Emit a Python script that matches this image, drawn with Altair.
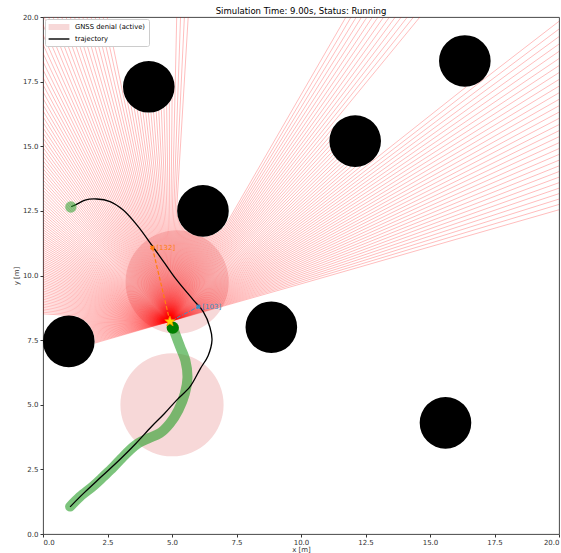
import altair as alt
import numpy as np
import pandas as pd

# ---- scene ----
obs_x = [4.1, 16.35, 12.1, 6.2, 1.0, 8.85, 15.6]
obs_y = [17.3, 18.3, 15.2, 12.5, 7.45, 8.0, 4.3]
obs_r = 1.0

gnss_x = [5.0, 5.2]
gnss_y = [5.0, 9.75]
gnss_r = 2.0

# planned trajectory
traj_x = [1.05, 1.6, 2.3, 3.0, 3.6, 4.2, 4.7, 5.2, 5.7, 6.1, 6.4, 6.55, 6.47,
          6.21, 5.83, 5.18, 4.7, 4.21, 3.69, 3.11, 2.6, 2.08, 1.63, 1.37, 1.09]
traj_y = [1.05, 1.6, 2.25, 2.9, 3.5, 4.15, 4.65, 5.2, 5.7, 6.4, 6.9, 7.5, 8.0,
          8.6, 9.05, 9.83, 10.5, 11.18, 11.89, 12.53, 12.86, 12.96, 12.92, 12.79, 12.66]

# driven path
path_x = [1.05, 1.43, 1.95, 2.34, 2.72, 3.05, 3.37, 3.69, 4.08, 4.53, 4.92,
          5.25, 5.5, 5.6, 5.52, 5.31, 5.12, 5.03]
path_y = [1.06, 1.44, 1.86, 2.22, 2.58, 2.93, 3.25, 3.51, 3.70, 3.90, 4.28,
          4.80, 5.44, 6.05, 6.7, 7.25, 7.76, 8.0]

robot_x, robot_y = 5.03, 7.98
est_x, est_y = 4.92, 8.22
goal_x, goal_y = 1.08, 12.65

# observation markers
ob_labels = ["[132]", "[103]"]
ob_x = [4.24, 6.02]
ob_y = [11.08, 8.79]
ob_colors = ["#ff7f0e", "#3d8fc4"]

legend_labels = ["GNSS denial (active)", "trajectory"]

# lidar sweep
fov_start_deg = 16.0
fov_end_deg = 196.0
n_rays = 251
max_range = 30.0

title = "Simulation Time: 9.00s, Status: Running"
ticks = [0, 2.5, 5, 7.5, 10, 12.5, 15, 17.5, 20]

W, H = 516, 517
px_per_m = W / 20.0


def disc_size(radius_m):
    # Vega symbol size is the area of the bounding square of the circle
    return (2 * radius_m * px_per_m) ** 2


def star_path(inner=0.42):
    pts = []
    for k in range(10):
        r = 1.0 if k % 2 == 0 else inner
        a = np.deg2rad(-90 + 36 * k)
        pts.append(f"{r * np.cos(a):.3f},{r * np.sin(a):.3f}")
    return "M" + "L".join(pts) + "Z"


# ---- lidar ray casting against the obstacles ----
angles = np.deg2rad(np.linspace(fov_start_deg, fov_end_deg, n_rays))
ray_rows = []
for a in angles:
    dx, dy = np.cos(a), np.sin(a)
    t_hit = max_range
    for cx, cy in zip(obs_x, obs_y):
        fx, fy = est_x - cx, est_y - cy
        b = fx * dx + fy * dy
        c = fx * fx + fy * fy - obs_r ** 2
        disc = b * b - c
        if disc >= 0:
            t1 = -b - np.sqrt(disc)
            if 0 < t1 < t_hit:
                t_hit = t1
    ray_rows.append({"x": est_x, "y": est_y,
                     "x2": est_x + t_hit * dx, "y2": est_y + t_hit * dy})
rays = pd.DataFrame(ray_rows)

xs = alt.Scale(domain=[0, 20], nice=False, zero=False)
ys = alt.Scale(domain=[0, 20], nice=False, zero=False)
x_axis = alt.Axis(values=ticks, format=".1f", title="x [m]", orient="bottom")
y_axis = alt.Axis(values=ticks, format=".1f", title="y [m]", orient="left")


def X(f):
    return alt.X(f, type="quantitative", scale=xs, axis=x_axis)


def Y(f):
    return alt.Y(f, type="quantitative", scale=ys, axis=y_axis)


pink = "#f7d8d8"

# patch for the denial zones, short line for the trajectory
legend = alt.Legend(
    title=None, orient="top-left", offset=2,
    symbolType=alt.ExprRef(
        expr="datum.value == 'trajectory' ? 'M-2.6,0H2.6' : 'M-2.6,-0.75H2.6V0.75H-2.6Z'"),
    symbolStrokeColor=alt.ExprRef(
        expr="datum.value == 'trajectory' ? 'black' : 'transparent'"),
    symbolStrokeWidth=1.4, symbolSize=64, symbolOffset=6, labelOffset=11,
)

gnss = pd.DataFrame({"x": gnss_x, "y": gnss_y, "label": legend_labels[0]})
gnss_layer = alt.Chart(gnss).mark_circle(
    size=disc_size(gnss_r), opacity=1, clip=True
).encode(
    x=X("x"), y=Y("y"),
    color=alt.Color("label:N",
                    scale=alt.Scale(domain=legend_labels, range=[pink, "black"]),
                    legend=legend),
)

ray_layer = alt.Chart(rays).mark_rule(
    color="#ff0000", opacity=0.26, strokeWidth=1.0, clip=True
).encode(x=X("x"), y=Y("y"), x2="x2", y2="y2")

obs = pd.DataFrame({"x": obs_x, "y": obs_y})
obs_layer = alt.Chart(obs).mark_circle(
    size=disc_size(obs_r), color="black", opacity=1, clip=True
).encode(x=X("x"), y=Y("y"))

path = pd.DataFrame({"x": path_x, "y": path_y, "i": range(len(path_x))})
path_layer = alt.Chart(path).mark_line(
    color="#2ca02c", opacity=0.62, strokeWidth=10, strokeCap="round",
    strokeJoin="round", interpolate="catmull-rom"
).encode(x=X("x"), y=Y("y"), order="i")

traj = pd.DataFrame({"x": traj_x, "y": traj_y, "i": range(len(traj_x))})
traj_layer = alt.Chart(traj).mark_line(
    color="black", strokeWidth=1.3, interpolate="catmull-rom"
).encode(x=X("x"), y=Y("y"), order="i")

goal_layer = alt.Chart(pd.DataFrame({"x": [goal_x], "y": [goal_y]})).mark_circle(
    size=130, color="#2ca02c", opacity=0.55
).encode(x=X("x"), y=Y("y"))

robot_layer = alt.Chart(pd.DataFrame({"x": [robot_x], "y": [robot_y]})).mark_circle(
    size=150, color="#008000", opacity=1
).encode(x=X("x"), y=Y("y"))

obl = pd.DataFrame({"x": [est_x] * 2, "y": [est_y] * 2, "x2": ob_x, "y2": ob_y,
                    "label": ob_labels, "c": ob_colors})
orange_line = alt.Chart(obl.iloc[[0]]).mark_rule(
    color=ob_colors[0], strokeWidth=1.2, strokeDash=[4, 2]
).encode(x=X("x"), y=Y("y"), x2="x2", y2="y2")
blue_line = alt.Chart(obl.iloc[[1]]).mark_rule(
    color=ob_colors[1], strokeWidth=1.0, strokeDash=[4, 1.5, 1, 1.5]
).encode(x=X("x"), y=Y("y"), x2="x2", y2="y2")

ob_marks = alt.Chart(obl).mark_point(
    shape="cross", angle=45, filled=True, size=24, opacity=1
).encode(x=X("x2"), y=Y("y2"), fill=alt.Fill("c:N", scale=None, legend=None))

ob_text = alt.Chart(obl).mark_text(
    align="left", baseline="middle", dx=4, fontSize=7, font="DejaVu Sans"
).encode(x=X("x2"), y=Y("y2"), text="label:N",
         fill=alt.Fill("c:N", scale=None, legend=None))

star_layer = alt.Chart(pd.DataFrame({"x": [est_x], "y": [est_y]})).mark_point(
    shape=star_path(), size=120, filled=True, color="#ffd500", stroke="#ff9900",
    strokeWidth=0.6, opacity=1
).encode(x=X("x"), y=Y("y"))

chart = alt.layer(
    gnss_layer, ray_layer, obs_layer, path_layer, traj_layer, goal_layer,
    robot_layer, orange_line, blue_line, ob_marks, star_layer, ob_text
).properties(
    width=W, height=H,
    title=alt.TitleParams(title, fontSize=8.5, font="DejaVu Sans",
                          fontWeight="normal", color="black", offset=1, dy=3),
    autosize=alt.AutoSizeParams(type="none"),
    padding={"left": 43, "top": 17, "right": 2, "bottom": 19},
).configure_view(
    stroke="#333333", strokeWidth=0.9
).configure_axis(
    labelFont="DejaVu Sans", labelFontSize=7, labelColor="#333333",
    titleFont="DejaVu Sans", titleFontSize=7, titleFontWeight="normal",
    titleColor="#333333", tickColor="#333333", domain=False, grid=False,
    tickSize=3, labelPadding=2, titlePadding=3
).configure_axisBottom(
    labelPadding=1, titlePadding=0
).configure_legend(
    labelFont="DejaVu Sans", labelFontSize=6.8, labelColor="black",
    fillColor="white", strokeColor="#cccccc", cornerRadius=2,
    padding=3, rowPadding=1, symbolOpacity=1
)

chart.save("out.html", embed_options={"renderer": "svg", "actions": False})
